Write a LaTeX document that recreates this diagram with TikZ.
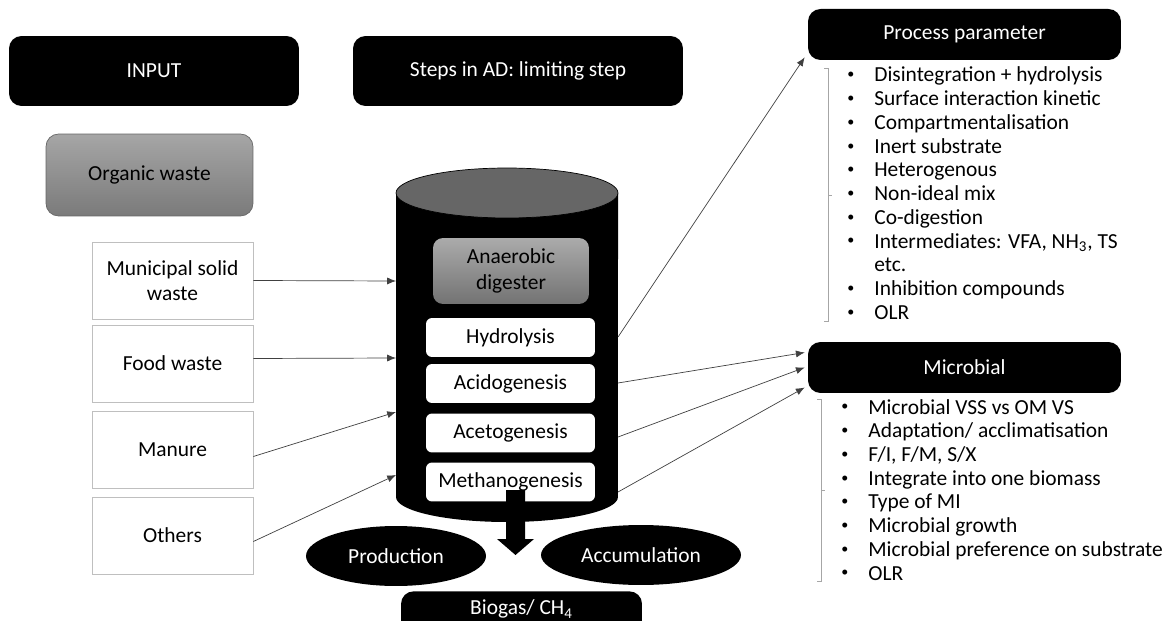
\documentclass[tikz,border=0pt]{standalone}
\usepackage{fontspec}
\setmainfont{Carlito}
\usetikzlibrary{shapes.geometric,arrows.meta,calc}
\definecolor{edgegray}{HTML}{BFBFBF}
\definecolor{topgray}{HTML}{666666}
\definecolor{bracegray}{HTML}{A6A6A6}
\newcommand{\itm}{\raisebox{0.3ex}{\fontsize{8}{8}\selectfont\textbullet}}
\tikzstyle{blackbox}=[fill=black,text=white,rounded corners=0.25cm,inner sep=0pt,minimum height=1.4cm]
\tikzstyle{graybox}=[draw=black!60,top color=black!35,bottom color=black!52,rounded corners=0.25cm,inner sep=0pt,align=center]
\tikzstyle{inbox}=[draw=edgegray,fill=white,inner sep=0pt,minimum width=3.22cm,minimum height=1.54cm,align=center]
\tikzstyle{stepbox}=[fill=white,rounded corners=0.12cm,inner sep=0pt,minimum width=3.38cm,minimum height=0.78cm]
\tikzstyle{blob}=[ellipse,fill=black,text=white,inner sep=0pt,minimum height=1.2cm]
\tikzstyle{feed}=[-{Latex[length=5pt,width=4pt]},draw=black!75,line width=0.4pt]

\begin{document}
\begin{tikzpicture}[x=0.02cm,y=-0.02cm,font=\fontsize{12.2}{13.5}\selectfont]
    \useasboundingbox (0,0) rectangle (1169,621);

    \node [blackbox,minimum width=5.8cm] (input) at (154,71) {INPUT};
    \node [blackbox,minimum width=6.6cm] (steps) at (518,71) {Steps in AD: limiting step};
    \node [graybox,minimum width=4.14cm,minimum height=1.64cm] (organic) at (149.5,175) {Organic waste};

    \node [inbox] (msw)    at (172.5,280.5) {Municipal solid\\[1pt]waste};
    \node [inbox] (food)   at (172.5,363.5) {Food waste};
    \node [inbox] (manure) at (172.5,449.5) {Manure};
    \node [inbox] (others) at (172.5,535.5) {Others};

    \fill (396,193) -- (396,497) arc [start angle=180,end angle=360,x radius=2.22cm,y radius=0.5cm] -- (618,193) -- cycle;
    \draw [fill=topgray] (507,193) ellipse [x radius=2.22cm,y radius=0.5cm];

    \node [graybox,draw=none,top color=black!33,bottom color=black!55,minimum width=3.12cm,minimum height=1.32cm,rounded corners=0.2cm] (digester) at (511,271) {Anaerobic\\[1pt]digester};
    \node [stepbox] (hydro)  at (510.5,337.5) {Hydrolysis};
    \node [stepbox] (acido)  at (510.5,383.5) {Acidogenesis};
    \node [stepbox] (aceto)  at (510.5,433) {Acetogenesis};
    \node [stepbox] (methano) at (510.5,482) {Methanogenesis};

    \fill (506,490) -- (525,490) -- (525,539) -- (534,539) -- (515.5,555) -- (497,539) -- (506,539) -- cycle;

    \node [blob,minimum width=3.6cm] (prod) at (396,556) {Production};
    \node [blob,minimum width=4cm] (accum) at (641,555) {Accumulation};
    \node [anchor=north,fill=black,text=white,rounded corners=0.25cm,inner xsep=0pt,inner ysep=0pt,minimum width=4.82cm,text height=0.47cm,text depth=0.8cm] (biogas) at (521.5,591) {Biogas/ CH\textsubscript{4}};

    \node [blackbox,minimum width=6.26cm,minimum height=1.02cm] (process) at (964.5,34.5) {Process parameter};
    \node [blackbox,minimum width=6.26cm,minimum height=1.02cm] (micro) at (964.5,367.5) {Microbial};

    \coordinate (in1) at (396,281);
    \coordinate (in2) at (396,358);
    \coordinate (in3) at (396,412);
    \coordinate (in4) at (396,475);
    \coordinate (out0) at (618,337);
    \coordinate (out1) at (618,383);
    \coordinate (out2) at (618,437);
    \coordinate (out3) at (618,492);

    \draw [feed] (msw.east) -- (in1);
    \draw [feed] ($(food.east)+(0,-5)$) -- (in2);
    \draw [feed] ($(manure.east)+(0,7)$) -- (in3);
    \draw [feed] ($(others.east)+(0,6)$) -- (in4);
    \draw [feed] (out0) -- ($(process.south west)+(-3,-3)$);
    \draw [feed] (out1) -- ($(micro.west)+(-3,-15)$);
    \draw [feed] (out2) -- ($(micro.west)+(-3,0)$);
    \draw [feed] (out3) -- ($(micro.west)+(-3,20)$);

    \draw [bracegray] (824,68) -- (828,68) -- (828,321) -- (824,321);
    \draw [bracegray] (828,195) -- (832,195);
    \draw [bracegray] (817,399) -- (821,399) -- (821,581) -- (817,581);
    \draw [bracegray] (821,490) -- (825,490);

    \node [anchor=base west,inner sep=0pt] (plist) at (847,82) {\begin{tabular}[t]{@{}p{0.54cm}@{}l@{}}
        \itm & Disintegration + hydrolysis\\
        \itm & Surface interaction kinetic\\
        \itm & Compartmentalisation\\
        \itm & Inert substrate\\
        \itm & Heterogenous\\
        \itm & Non-ideal mix\\
        \itm & Co-digestion\\
        \itm & Intermediates: VFA, NH\textsubscript{3}, TS\\
             & etc.\\
        \itm & Inhibition compounds\\
        \itm & OLR
    \end{tabular}};
    \node [anchor=base west,inner sep=0pt] (mlist) at (841,414) {\begin{tabular}[t]{@{}p{0.54cm}@{}l@{}}
        \itm & Microbial VSS vs OM VS\\
        \itm & Adaptation/ acclimatisation\\
        \itm & F/I, F/M, S/X\\
        \itm & Integrate into one biomass\\
        \itm & Type of MI\\
        \itm & Microbial growth\\
        \itm & Microbial preference on substrate\\
        \itm & OLR
    \end{tabular}};
\end{tikzpicture}
\end{document}
